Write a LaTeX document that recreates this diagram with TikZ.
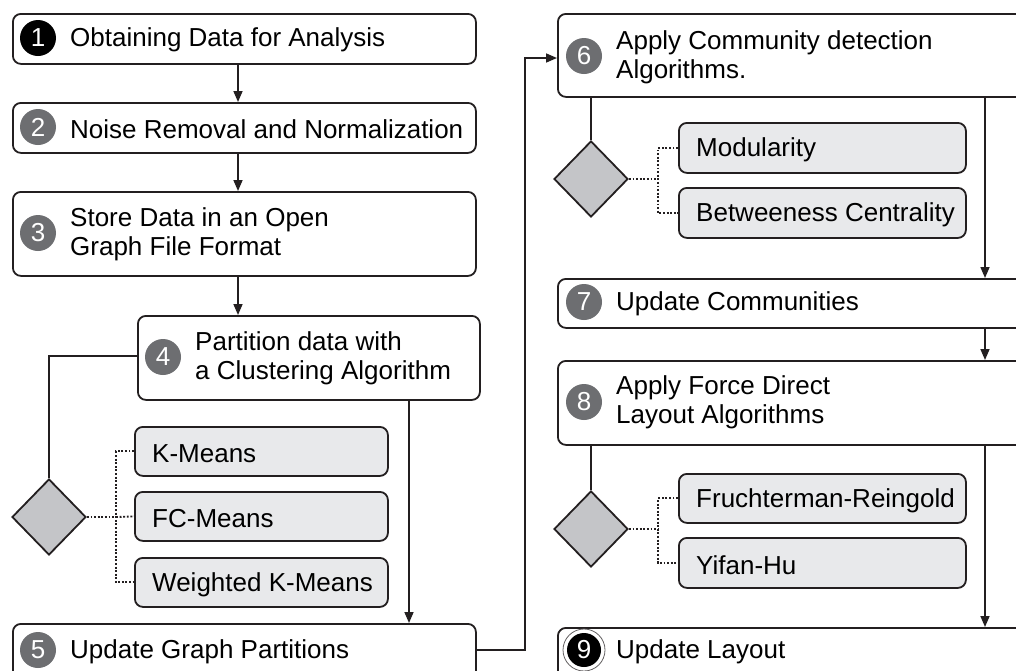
\documentclass[tikz,border=0pt]{standalone}
\usepackage{fontspec}
\setmainfont{Liberation Sans}
\usetikzlibrary{arrows.meta,shapes.geometric}
\definecolor{ink}{HTML}{231F20}
\definecolor{badgegray}{HTML}{6D6E71}
\definecolor{optfill}{HTML}{E8E9EB}
\definecolor{gatefill}{HTML}{C4C5C8}

\begin{document}
\begin{tikzpicture}[x=1pt,y=-1pt,
  stepbox/.style={draw=ink, line width=1.8pt, rounded corners=8pt, fill=white,
    inner sep=0pt, anchor=north west},
  optbox/.style={draw=ink, line width=1.8pt, rounded corners=8pt, fill=optfill,
    inner sep=0pt, anchor=north west, minimum height=49pt},
  badge/.style={circle, fill=badgegray, text=white, minimum size=36pt, inner sep=0pt,
    font=\fontsize{26}{26}\selectfont},
  darkbadge/.style={badge, fill=black},
  steptext/.style={anchor=west, inner sep=0pt, align=left, yshift=-2pt,
    font=\fontsize{26}{29}\selectfont},
  flow/.style={draw=ink, line width=1.6pt, -{Triangle[length=11pt,width=9pt]}},
  link/.style={draw=ink, line width=1.6pt},
  optlink/.style={draw=ink, line width=1.9pt, dash pattern=on 1.9pt off 1.7pt},
  gate/.style={diamond, draw=ink, line width=1.8pt, fill=gatefill,
    minimum width=74pt, minimum height=76pt, inner sep=0pt}]

\useasboundingbox (0,0) rectangle (1016,670);
\clip (0,0) rectangle (1016,670);

% ---------- left column ----------
\node[stepbox, minimum width=463pt, minimum height=50pt] (s1) at (12,13) {};
\node[darkbadge] (n1) at (38,38) {1};
\node[steptext] (t1) at (70,38) {Obtaining Data for Analysis};

\node[stepbox, minimum width=463pt, minimum height=50pt] (s2) at (12,102) {};
\node[badge] (n2) at (38,127) {2};
\node[steptext] (t2) at (70,127) {Noise Removal and Normalization};

\node[stepbox, minimum width=463pt, minimum height=84pt] (s3) at (12,191) {};
\node[badge] (n3) at (38,233) {3};
\node[steptext] (t3) at (70,232) {Store Data in an Open\\Graph File Format};

\node[stepbox, minimum width=342pt, minimum height=84pt] (s4) at (137,315) {};
\node[badge] (n4) at (163,357) {4};
\node[steptext] (t4) at (195,356) {Partition data with\\a Clustering Algorithm};

\node[gate] (g1) at (49,517) {};
\node[optbox, minimum width=253pt] (o1) at (134,426) {};
\node[optbox, minimum width=253pt] (o2) at (134,491) {};
\node[optbox, minimum width=253pt] (o3) at (134,557) {};
\node[steptext] (u1) at ([xshift=18pt]o1.west) {K-Means};
\node[steptext] (u2) at ([xshift=18pt]o2.west) {FC-Means};
\node[steptext] (u3) at ([xshift=18pt]o3.west) {Weighted K-Means};

\node[stepbox, minimum width=463pt, minimum height=70pt] (s5) at (12,623) {};
\node[badge] (n5) at (38,650) {5};
\node[steptext] (t5) at (70,650) {Update Graph Partitions};

\coordinate (v1) at (116,517);

\draw[flow] (s1.south -| 238,0) -- (s2.north -| 238,0);
\draw[flow] (s2.south -| 238,0) -- (s3.north -| 238,0);
\draw[flow] (s3.south -| 238,0) -- (s4.north -| 238,0);
\draw[link] (s4.west |- 0,356) -| (g1.north);
\draw[flow] (s4.south -| 409,0) -- (s5.north -| 409,0);
\draw[optlink] (g1.east) -- (v1);
\draw[optlink] (o1.west) -| (v1) |- (o3.west);
\draw[optlink] (v1) -- (o2.west);

% ---------- right column ----------
\node[stepbox, minimum width=490pt, minimum height=83pt] (s6) at (557,13) {};
\node[badge] (n6) at (584,56) {6};
\node[steptext] (t6) at (616,55) {Apply Community detection\\Algorithms.};

\node[gate] (g2) at (591,179) {};
\node[optbox, minimum width=287pt, minimum height=50pt] (o4) at (678,122) {};
\node[optbox, minimum width=287pt, minimum height=50pt] (o5) at (678,187) {};
\node[steptext] (u4) at ([xshift=18pt]o4.west) {Modularity};
\node[steptext] (u5) at ([xshift=18pt]o5.west) {Betweeness Centrality};

\node[stepbox, minimum width=490pt, minimum height=49pt] (s7) at (557,278) {};
\node[badge] (n7) at (584,302) {7};
\node[steptext] (t7) at (616,302) {Update Communities};

\node[stepbox, minimum width=490pt, minimum height=84pt] (s8) at (557,360) {};
\node[badge] (n8) at (584,402) {8};
\node[steptext] (t8) at (616,400) {Apply Force Direct\\Layout Algorithms};

\node[gate] (g3) at (591,529) {};
\node[optbox, minimum width=287pt] (o6) at (678,473) {};
\node[optbox, minimum width=287pt, minimum height=50pt] (o7) at (678,537) {};
\node[steptext] (u6) at ([xshift=18pt]o6.west) {Fruchterman-Reingold};
\node[steptext] (u7) at ([xshift=18pt]o7.west) {Yifan-Hu};

\node[stepbox, minimum width=490pt, minimum height=70pt] (s9) at (557,627) {};
\node[circle, fill=black, text=white, minimum size=34pt, inner sep=0pt,
  font=\fontsize{26}{26}\selectfont] (n9) at (584,650) {9};
\draw[ink!70, line width=0.8pt] (n9.center) circle (21pt);
\node[steptext] (t9) at (616,650) {Update Layout};

\coordinate (v2) at (658,179);
\coordinate (v3) at (658,529);
\coordinate (hop) at (525,650);

\draw[link] (s6.south -| g2.north) -- (g2.north);
\draw[link] (s8.south -| g3.north) -- (g3.north);
\draw[optlink] (g2.east) -- (v2);
\draw[optlink] (o4.west) -| (v2) |- (o5.west);
\draw[optlink] (g3.east) -- (v3);
\draw[optlink] (o6.west) -| (v3) |- (o7.west);
\draw[flow] (s6.south -| 985,0) -- (s7.north -| 985,0);
\draw[flow] (s7.south -| 985,0) -- (s8.north -| 985,0);
\draw[flow] (s8.south -| 985,0) -- (s9.north -| 985,0);

% hand-over from the left column to the right column
\draw[flow] (s5.east |- hop) -- (hop) |- (s6.west |- 0,58);
\end{tikzpicture}
\end{document}
